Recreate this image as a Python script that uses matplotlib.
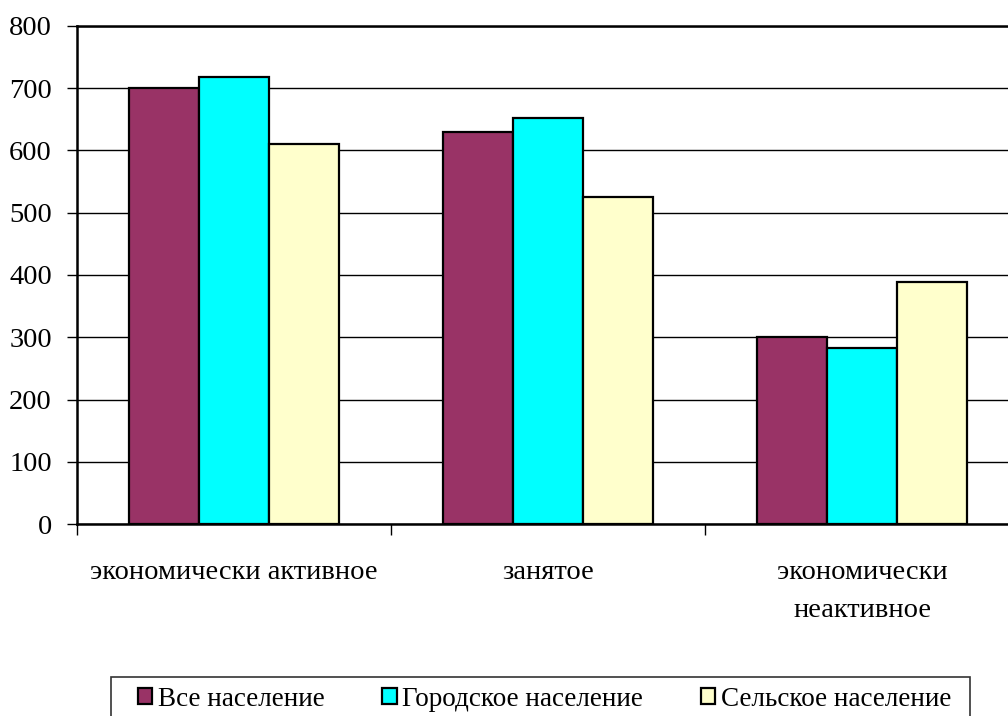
import numpy as np
import matplotlib
matplotlib.use("Agg")
import matplotlib.pyplot as plt
from matplotlib.patches import Rectangle

# данные
categories = ["экономически активное", "занятое", "экономически\nнеактивное"]
series_names = ["Все население", "Городское население", "Сельское население"]
all_pop = [700, 630, 301]
urban_pop = [718, 652, 282]
rural_pop = [611, 526, 389]
colors = ["#993366", "#00FFFF", "#FFFFCC"]
yticks = [0, 100, 200, 300, 400, 500, 600, 700, 800]

plt.rcParams["font.family"] = ["Liberation Serif", "DejaVu Serif"]

W, H = 1008, 716
fig = plt.figure(figsize=(W / 100, H / 100), dpi=100)
# область построения обрезана справа, как на оригинале
ax = fig.add_axes([77 / W, 1 - 524 / H, 942 / W, 498 / H])

x = np.arange(len(categories)) + 0.5
w = 0.223
for i, (vals, name) in enumerate(zip([all_pop, urban_pop, rural_pop], series_names)):
    ax.bar(x + (i - 1) * w, vals, w, color=colors[i], edgecolor="black",
           linewidth=1.6, label=name, zorder=3)

# оси
ax.set_xlim(0, len(categories))
ax.set_ylim(0, 800)
ax.set_yticks(yticks)
ax.set_yticklabels([str(v) for v in yticks], fontsize=20.5)
ax.yaxis.grid(True, color="black", linewidth=1, zorder=0)
ax.tick_params(axis="y", direction="out", length=7, width=1, pad=11)

ax.set_xticks(np.arange(len(categories) + 1))
ax.set_xticklabels([])
ax.set_xticks(x, minor=True)
ax.set_xticklabels(categories, minor=True, fontsize=20.5, linespacing=1.7)
ax.tick_params(axis="x", which="major", direction="out", length=8, width=1)
ax.tick_params(axis="x", which="minor", length=0, pad=26)

for side in ["left", "bottom", "top"]:
    ax.spines[side].set_linewidth(1.8)
ax.spines["right"].set_visible(False)

# рамка легенды (нижний край за пределами рисунка)
fig.patches.append(Rectangle((111 / W, -0.02), (970 - 111) / W, 0.02 + 1 - 677 / H,
                             transform=fig.transFigure, fill=False,
                             edgecolor="#333333", linewidth=1.2))
fig.legend(loc="center left", bbox_to_anchor=(138 / W, 1 - 699 / H),
           ncol=3, fontsize=19.5, frameon=False,
           handlelength=0.52, handleheight=0.52, handletextpad=0.2,
           columnspacing=2.15, borderpad=0, borderaxespad=0)

fig.savefig("out.png", dpi=100)
